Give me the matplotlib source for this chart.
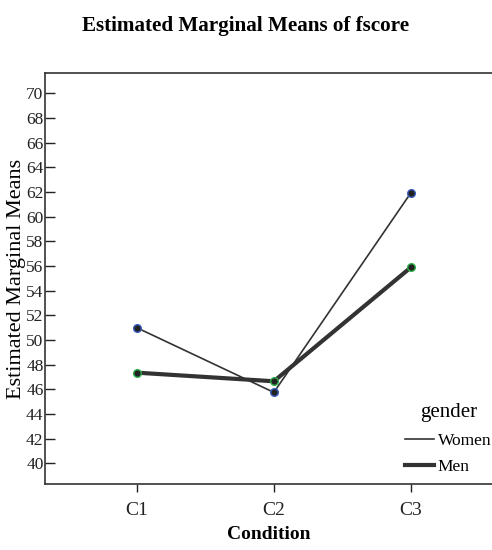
import numpy as np
import matplotlib
matplotlib.use("Agg")
import matplotlib.pyplot as plt

# Valores
condiciones = ['C1', 'C2', 'C3']
medias_women = [51.0, 45.75, 61.95]
medias_men = [47.35, 46.65, 55.9]
ticks_y = list(range(40, 72, 2))

plt.rcParams['font.family'] = ['Liberation Serif', 'DejaVu Serif']

fig = plt.figure(figsize=(4.92, 5.5), dpi=100)
ax = fig.add_axes([45 / 492, 66 / 550, 1 - 45 / 492, 411 / 550])

x = np.arange(len(condiciones))
ax.plot(x, medias_women, color='#333333', lw=1.2, label='Women',
        marker='o', ms=5.5, mfc='#222222', mec='#3a5bbf', mew=1.0)
ax.plot(x, medias_men, color='#333333', lw=3.0, label='Men',
        marker='o', ms=5.5, mfc='#222222', mec='#2fae4a', mew=1.0)

ax.set_xlim(-0.668, 2.59)
ax.set_ylim(38.32, 71.65)
ax.set_xticks(x)
ax.set_xticklabels(condiciones, fontsize=14)
ax.set_yticks(ticks_y)
ax.set_yticklabels([str(t) for t in ticks_y], fontsize=12.5)
ax.tick_params(axis='y', direction='in', length=7, width=1, pad=1, colors='#222222')
ax.tick_params(axis='x', direction='out', length=6, width=1, pad=7, colors='#222222')

ax.spines['right'].set_visible(False)
for s in ['left', 'top', 'bottom']:
    ax.spines[s].set_color('#333333')
    ax.spines[s].set_linewidth(1.2)

ax.set_ylabel('Estimated Marginal Means', fontsize=16, labelpad=0)
ax.set_xlabel('Condition', fontsize=14, fontweight='bold', labelpad=5)
fig.text(0.5, 1 - 26 / 550, 'Estimated Marginal Means of fscore',
         ha='center', va='center', fontsize=15.2, fontweight='bold')

leg = ax.legend(title='gender', frameon=False, fontsize=12.5, title_fontsize=15,
                loc='upper left', bbox_to_anchor=(398 / 492, 1 - 396 / 550),
                bbox_transform=fig.transFigure,
                handlelength=1.7, handletextpad=0.2, labelspacing=0.55,
                borderaxespad=0)
leg._legend_box.sep = 8
for h in leg.legend_handles:
    h.set_marker('')

fig.savefig('out.png', dpi=100)
